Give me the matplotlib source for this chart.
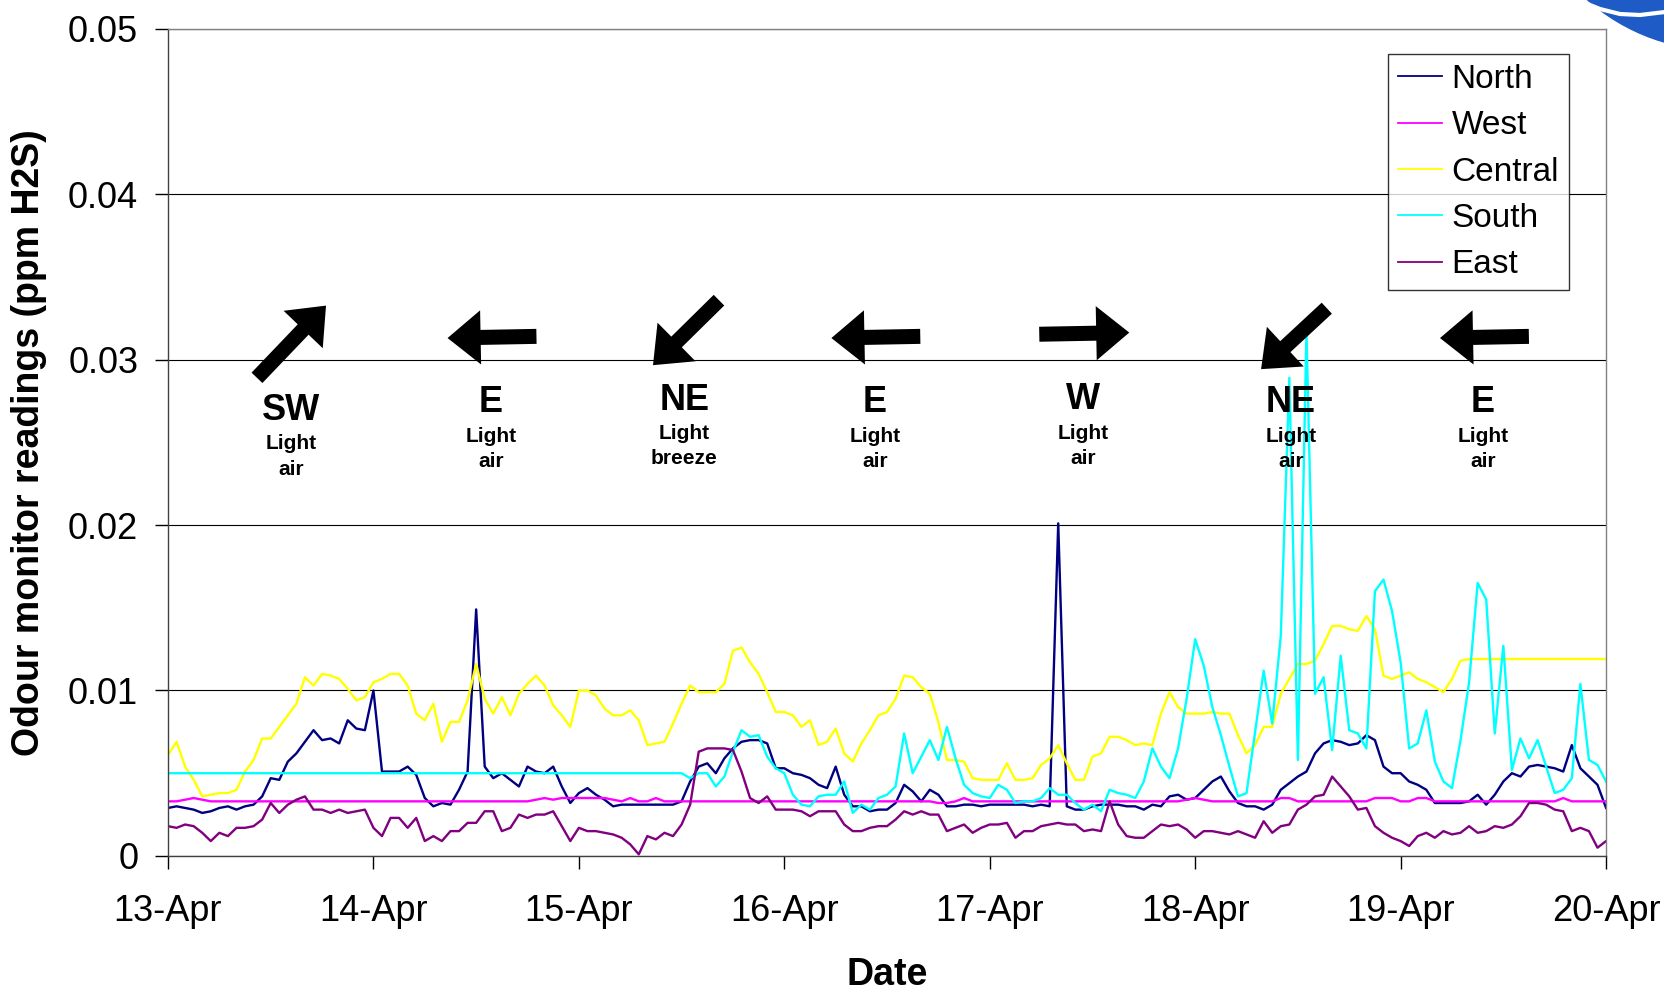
import numpy as np
import matplotlib
matplotlib.use("Agg")
import matplotlib.pyplot as plt
from matplotlib.patches import Circle
from matplotlib.transforms import IdentityTransform

plt.rcParams['font.family'] = ['Liberation Sans', 'DejaVu Sans']

# hourly odour readings (ppm H2S), 13-Apr 00:00 .. 20-Apr 00:00, one row per day
days = ['13-Apr', '14-Apr', '15-Apr', '16-Apr', '17-Apr', '18-Apr', '19-Apr', '20-Apr']

north = [
    0.0029, 0.0030, 0.0029, 0.0028, 0.0026, 0.0027, 0.0029, 0.0030, 0.0028, 0.0030, 0.0031, 0.0036, 0.0047, 0.0046, 0.0057, 0.0062, 0.0069, 0.0076, 0.0070, 0.0071, 0.0068, 0.0082, 0.0077, 0.0076,
    0.0100, 0.0051, 0.0051, 0.0051, 0.0054, 0.0049, 0.0035, 0.0030, 0.0032, 0.0031, 0.0040, 0.0051, 0.0149, 0.0054, 0.0047, 0.0050, 0.0046, 0.0042, 0.0054, 0.0051, 0.0050, 0.0054, 0.0042, 0.0032,
    0.0038, 0.0041, 0.0037, 0.0034, 0.0030, 0.0031, 0.0031, 0.0031, 0.0031, 0.0031, 0.0031, 0.0031, 0.0033, 0.0045, 0.0054, 0.0056, 0.0050, 0.0059, 0.0065, 0.0069, 0.0070, 0.0070, 0.0068, 0.0053,
    0.0053, 0.0050, 0.0049, 0.0047, 0.0043, 0.0041, 0.0054, 0.0037, 0.0030, 0.0030, 0.0027, 0.0028, 0.0028, 0.0032, 0.0043, 0.0039, 0.0033, 0.0040, 0.0037, 0.0030, 0.0030, 0.0031, 0.0031, 0.0030,
    0.0031, 0.0031, 0.0031, 0.0031, 0.0031, 0.0030, 0.0031, 0.0030, 0.0201, 0.0030, 0.0028, 0.0028, 0.0030, 0.0031, 0.0031, 0.0031, 0.0030, 0.0030, 0.0028, 0.0031, 0.0030, 0.0036, 0.0037, 0.0034,
    0.0035, 0.0040, 0.0045, 0.0048, 0.0039, 0.0032, 0.0030, 0.0030, 0.0028, 0.0031, 0.0040, 0.0044, 0.0048, 0.0051, 0.0062, 0.0068, 0.0070, 0.0069, 0.0067, 0.0068, 0.0073, 0.0070, 0.0054, 0.0050,
    0.0050, 0.0045, 0.0043, 0.0040, 0.0032, 0.0032, 0.0032, 0.0032, 0.0033, 0.0037, 0.0031, 0.0037, 0.0045, 0.0050, 0.0048, 0.0054, 0.0055, 0.0054, 0.0053, 0.0051, 0.0067, 0.0053, 0.0048, 0.0043,
    0.0029,
]

west = [
    0.0033, 0.0033, 0.0034, 0.0035, 0.0034, 0.0033, 0.0033, 0.0033, 0.0033, 0.0033, 0.0033, 0.0033, 0.0033, 0.0033, 0.0033, 0.0033, 0.0033, 0.0033, 0.0033, 0.0033, 0.0033, 0.0033, 0.0033, 0.0033,
    0.0033, 0.0033, 0.0033, 0.0033, 0.0033, 0.0033, 0.0033, 0.0033, 0.0033, 0.0033, 0.0033, 0.0033, 0.0033, 0.0033, 0.0033, 0.0033, 0.0033, 0.0033, 0.0033, 0.0034, 0.0035, 0.0034, 0.0035, 0.0035,
    0.0035, 0.0035, 0.0035, 0.0035, 0.0034, 0.0033, 0.0035, 0.0033, 0.0033, 0.0035, 0.0033, 0.0033, 0.0033, 0.0033, 0.0033, 0.0033, 0.0033, 0.0033, 0.0033, 0.0033, 0.0033, 0.0033, 0.0033, 0.0033,
    0.0033, 0.0033, 0.0033, 0.0033, 0.0033, 0.0033, 0.0033, 0.0033, 0.0033, 0.0033, 0.0033, 0.0033, 0.0033, 0.0033, 0.0033, 0.0033, 0.0033, 0.0033, 0.0032, 0.0032, 0.0033, 0.0035, 0.0033, 0.0033,
    0.0033, 0.0033, 0.0033, 0.0033, 0.0033, 0.0033, 0.0033, 0.0033, 0.0033, 0.0033, 0.0033, 0.0033, 0.0033, 0.0033, 0.0033, 0.0033, 0.0033, 0.0033, 0.0033, 0.0033, 0.0033, 0.0033, 0.0033, 0.0034,
    0.0035, 0.0034, 0.0033, 0.0033, 0.0033, 0.0033, 0.0033, 0.0033, 0.0033, 0.0033, 0.0035, 0.0035, 0.0033, 0.0033, 0.0033, 0.0033, 0.0033, 0.0033, 0.0033, 0.0033, 0.0033, 0.0035, 0.0035, 0.0035,
    0.0033, 0.0033, 0.0035, 0.0035, 0.0033, 0.0033, 0.0033, 0.0033, 0.0033, 0.0033, 0.0033, 0.0033, 0.0033, 0.0033, 0.0033, 0.0033, 0.0033, 0.0033, 0.0033, 0.0035, 0.0033, 0.0033, 0.0033, 0.0033,
    0.0033,
]

central = [
    0.0061, 0.0069, 0.0054, 0.0046, 0.0036, 0.0037, 0.0038, 0.0038, 0.0040, 0.0051, 0.0058, 0.0071, 0.0071, 0.0078, 0.0085, 0.0092, 0.0108, 0.0103, 0.0110, 0.0109, 0.0107, 0.0101, 0.0094, 0.0096,
    0.0105, 0.0107, 0.0110, 0.0110, 0.0103, 0.0086, 0.0082, 0.0092, 0.0069, 0.0081, 0.0081, 0.0094, 0.0116, 0.0095, 0.0086, 0.0096, 0.0085, 0.0098, 0.0104, 0.0109, 0.0103, 0.0091, 0.0085, 0.0078,
    0.0100, 0.0100, 0.0097, 0.0089, 0.0085, 0.0085, 0.0088, 0.0082, 0.0067, 0.0068, 0.0069, 0.0080, 0.0092, 0.0103, 0.0099, 0.0099, 0.0099, 0.0104, 0.0124, 0.0126, 0.0117, 0.0110, 0.0099, 0.0087,
    0.0087, 0.0085, 0.0078, 0.0082, 0.0067, 0.0069, 0.0077, 0.0062, 0.0057, 0.0068, 0.0076, 0.0085, 0.0087, 0.0095, 0.0109, 0.0108, 0.0102, 0.0098, 0.0081, 0.0058, 0.0058, 0.0057, 0.0047, 0.0046,
    0.0046, 0.0046, 0.0056, 0.0046, 0.0046, 0.0047, 0.0055, 0.0059, 0.0067, 0.0056, 0.0046, 0.0046, 0.0060, 0.0062, 0.0072, 0.0072, 0.0070, 0.0067, 0.0068, 0.0067, 0.0086, 0.0099, 0.0090, 0.0086,
    0.0086, 0.0086, 0.0087, 0.0086, 0.0086, 0.0073, 0.0062, 0.0067, 0.0078, 0.0078, 0.0098, 0.0107, 0.0116, 0.0116, 0.0118, 0.0128, 0.0139, 0.0139, 0.0137, 0.0136, 0.0145, 0.0137, 0.0109, 0.0107,
    0.0109, 0.0111, 0.0107, 0.0105, 0.0102, 0.0099, 0.0107, 0.0118, 0.0119, 0.0119, 0.0119, 0.0119, 0.0119, 0.0119, 0.0119, 0.0119, 0.0119, 0.0119, 0.0119, 0.0119, 0.0119, 0.0119, 0.0119, 0.0119,
    0.0119,
]

south = [
    0.0050, 0.0050, 0.0050, 0.0050, 0.0050, 0.0050, 0.0050, 0.0050, 0.0050, 0.0050, 0.0050, 0.0050, 0.0050, 0.0050, 0.0050, 0.0050, 0.0050, 0.0050, 0.0050, 0.0050, 0.0050, 0.0050, 0.0050, 0.0050,
    0.0050, 0.0050, 0.0050, 0.0050, 0.0050, 0.0050, 0.0050, 0.0050, 0.0050, 0.0050, 0.0050, 0.0050, 0.0050, 0.0050, 0.0050, 0.0050, 0.0050, 0.0050, 0.0050, 0.0050, 0.0050, 0.0050, 0.0050, 0.0050,
    0.0050, 0.0050, 0.0050, 0.0050, 0.0050, 0.0050, 0.0050, 0.0050, 0.0050, 0.0050, 0.0050, 0.0050, 0.0050, 0.0047, 0.0050, 0.0050, 0.0042, 0.0048, 0.0063, 0.0076, 0.0072, 0.0073, 0.0060, 0.0053,
    0.0050, 0.0037, 0.0031, 0.0030, 0.0036, 0.0037, 0.0037, 0.0045, 0.0026, 0.0031, 0.0028, 0.0035, 0.0037, 0.0042, 0.0074, 0.0050, 0.0060, 0.0070, 0.0058, 0.0078, 0.0059, 0.0043, 0.0038, 0.0036,
    0.0035, 0.0043, 0.0040, 0.0032, 0.0033, 0.0033, 0.0035, 0.0041, 0.0037, 0.0037, 0.0032, 0.0028, 0.0031, 0.0027, 0.0040, 0.0038, 0.0037, 0.0035, 0.0045, 0.0065, 0.0054, 0.0047, 0.0065, 0.0095,
    0.0131, 0.0115, 0.0090, 0.0073, 0.0054, 0.0036, 0.0038, 0.0075, 0.0112, 0.0080, 0.0133, 0.0289, 0.0058, 0.0317, 0.0098, 0.0108, 0.0064, 0.0121, 0.0076, 0.0074, 0.0065, 0.0160, 0.0167, 0.0148,
    0.0117, 0.0065, 0.0068, 0.0088, 0.0057, 0.0045, 0.0041, 0.0070, 0.0105, 0.0165, 0.0155, 0.0074, 0.0127, 0.0052, 0.0071, 0.0059, 0.0070, 0.0054, 0.0038, 0.0040, 0.0047, 0.0104, 0.0058, 0.0055,
    0.0045,
]

east = [
    0.0018, 0.0017, 0.0019, 0.0018, 0.0014, 0.0009, 0.0014, 0.0012, 0.0017, 0.0017, 0.0018, 0.0022, 0.0032, 0.0026, 0.0031, 0.0034, 0.0036, 0.0028, 0.0028, 0.0026, 0.0028, 0.0026, 0.0027, 0.0028,
    0.0017, 0.0012, 0.0023, 0.0023, 0.0017, 0.0023, 0.0009, 0.0012, 0.0009, 0.0015, 0.0015, 0.0020, 0.0020, 0.0027, 0.0027, 0.0015, 0.0017, 0.0025, 0.0023, 0.0025, 0.0025, 0.0027, 0.0018, 0.0009,
    0.0017, 0.0015, 0.0015, 0.0014, 0.0013, 0.0011, 0.0007, 0.0001, 0.0012, 0.0010, 0.0014, 0.0012, 0.0019, 0.0031, 0.0063, 0.0065, 0.0065, 0.0065, 0.0064, 0.0051, 0.0035, 0.0032, 0.0036, 0.0028,
    0.0028, 0.0028, 0.0027, 0.0024, 0.0027, 0.0027, 0.0027, 0.0019, 0.0015, 0.0015, 0.0017, 0.0018, 0.0018, 0.0022, 0.0027, 0.0025, 0.0027, 0.0025, 0.0025, 0.0015, 0.0017, 0.0019, 0.0014, 0.0017,
    0.0019, 0.0019, 0.0020, 0.0011, 0.0015, 0.0015, 0.0018, 0.0019, 0.0020, 0.0019, 0.0019, 0.0015, 0.0016, 0.0015, 0.0033, 0.0019, 0.0012, 0.0011, 0.0011, 0.0015, 0.0019, 0.0018, 0.0019, 0.0016,
    0.0011, 0.0015, 0.0015, 0.0014, 0.0013, 0.0015, 0.0013, 0.0011, 0.0021, 0.0014, 0.0018, 0.0019, 0.0028, 0.0031, 0.0036, 0.0037, 0.0048, 0.0042, 0.0036, 0.0028, 0.0029, 0.0018, 0.0014, 0.0011,
    0.0009, 0.0006, 0.0012, 0.0014, 0.0011, 0.0015, 0.0013, 0.0014, 0.0018, 0.0014, 0.0015, 0.0018, 0.0017, 0.0019, 0.0024, 0.0032, 0.0032, 0.0031, 0.0028, 0.0027, 0.0015, 0.0017, 0.0015, 0.0005,
    0.0009,
]

# wind direction notes for each day
wind_dir = ['SW', 'E', 'NE', 'E', 'W', 'NE', 'E']
wind_force = ['Light\nair', 'Light\nair', 'Light\nbreeze', 'Light\nair', 'Light\nair', 'Light\nair', 'Light\nair']

series = [
    ('North', north, '#000080'),
    ('West', west, '#FF00FF'),
    ('Central', central, '#FFFF00'),
    ('South', south, '#00FFFF'),
    ('East', east, '#800080'),
]

t = np.arange(len(north)) / 24.0   # days since 13-Apr

fig = plt.figure(figsize=(16.65, 9.9), dpi=100)
ax = fig.add_axes([0.1009, 0.1354, 0.8637, 0.8357])

for name, vals, col in series:
    ax.plot(t, vals, color=col, lw=1.7, label=name)

ax.set_xlim(0, 7)
ax.set_ylim(0, 0.05)
ax.set_xticks(range(len(days)))
ax.set_xticklabels(days)
yt = [0, 0.01, 0.02, 0.03, 0.04, 0.05]
ax.set_yticks(yt)
ax.set_yticklabels(['0', '0.01', '0.02', '0.03', '0.04', '0.05'])
ax.tick_params(axis='both', direction='out', length=9.5, width=1, labelsize=26)
ax.tick_params(axis='x', pad=18)
ax.tick_params(axis='y', pad=12)
ax.yaxis.grid(True, color='black', lw=0.8)
ax.set_axisbelow(True)
for s in ['top', 'right']:
    ax.spines[s].set_color('#808080')
for s in ['left', 'bottom']:
    ax.spines[s].set_color('#404040')
for s in ax.spines.values():
    s.set_linewidth(1.0)

ax.set_xlabel('Date', fontsize=27, fontweight='bold', labelpad=20)
ax.set_ylabel('Odour monitor readings (ppm H2S)', fontsize=27, fontweight='bold', labelpad=15)

leg = ax.legend(loc='upper right', bbox_to_anchor=(0.9743, 0.9694), borderaxespad=0,
                fontsize=24, frameon=True, fancybox=False, edgecolor='black',
                handlelength=1.3, handletextpad=0.3, labelspacing=0.46, borderpad=0.3)
leg.get_frame().set_linewidth(1.0)
for ln in leg.get_lines():
    ln.set_linewidth(1.3)

# wind labels: centre position (hour, ppm) for direction text and force text
lab_h = [14.4, 37.7, 60.3, 82.6, 106.9, 131.2, 153.6]
dir_y = [0.0269, 0.02738, 0.0275, 0.02738, 0.02757, 0.02738, 0.02738]
force_y = [0.02415, 0.02459, 0.02478, 0.02459, 0.02478, 0.02459, 0.02459]
# arrow tip (hour, ppm) and tail offset in points
tip_h = [18.46, 32.66, 56.66, 77.5, 112.3, 127.7, 148.6]
tip_y = [0.03326, 0.0313, 0.02966, 0.0313, 0.03163, 0.02942, 0.0313]
tail_off = [(-49.7, -52), (64, 1.2), (47.5, 46.8), (64, 1.2), (-64.8, -1.2), (47.3, 43.9), (64, 1.2)]

for i in range(len(wind_dir)):
    ax.text(lab_h[i] / 24, dir_y[i], wind_dir[i], ha='center', va='center',
            fontsize=26, fontweight='bold')
    ax.text(lab_h[i] / 24, force_y[i], wind_force[i], ha='center', va='center',
            fontsize=15, fontweight='bold', linespacing=1.45)
    ax.annotate('', xy=(tip_h[i] / 24, tip_y[i]), xytext=tail_off[i], textcoords='offset points',
                arrowprops=dict(arrowstyle='simple,head_length=23.8,head_width=39,tail_width=10.8',
                                mutation_scale=1, color='black', lw=0, shrinkA=0, shrinkB=0))

# partial logo in the top-right corner
logo = Circle((1720, 1140), 200, transform=IdentityTransform(), color='#1E5BC6', zorder=5)
fig.add_artist(logo)
wx = np.array([1585, 1600, 1620, 1640, 1665])
wy = 990 - np.array([3, 9, 14, 15, 12])
fig.add_artist(plt.Line2D(wx, wy, transform=IdentityTransform(), color='white', lw=3, zorder=6))

fig.savefig('out.png', dpi=100)
